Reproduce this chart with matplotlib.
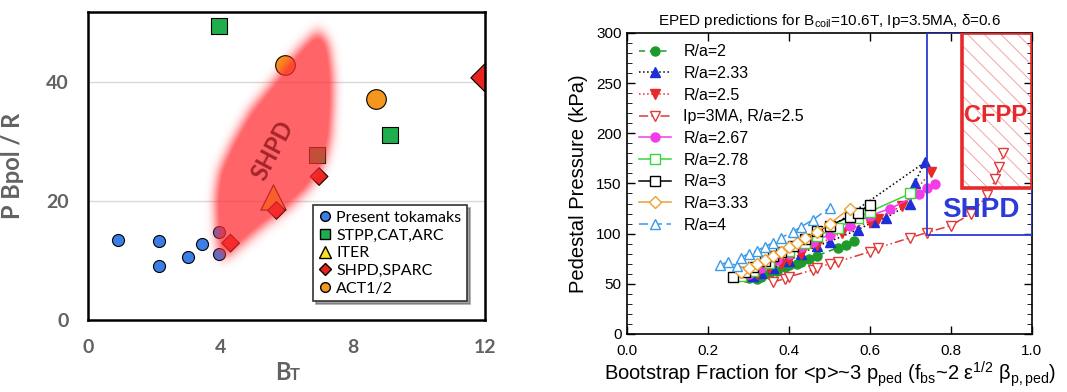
import numpy as np
import matplotlib
matplotlib.use('Agg')
import matplotlib.pyplot as plt
from matplotlib.lines import Line2D
from matplotlib.patches import Rectangle
from matplotlib.path import Path

plt.rcParams['mathtext.fontset'] = 'custom'
plt.rcParams['mathtext.rm'] = 'Liberation Sans'
plt.rcParams['mathtext.it'] = 'Liberation Sans:italic'
plt.rcParams['mathtext.bf'] = 'Liberation Sans:bold'
plt.rcParams['hatch.linewidth'] = 0.7

# ---------------- left panel data ----------------
tok_bt = [0.91, 2.14, 2.14, 3.02, 3.45, 3.95, 3.95]
tok_p = [13.5, 13.2, 9.1, 10.6, 12.7, 14.8, 11.1]
stpp_bt = [3.95, 9.14, 6.94]
stpp_p = [49.4, 31.1, 27.8]
iter_bt = [5.59]
iter_p = [20.7]
shpd_bt = [4.31, 5.70, 6.99, 12.0]
shpd_p = [12.9, 18.4, 24.1, 40.7]
shpd_ms = [9, 9, 9, 14]
act_bt = [5.95, 8.72]
act_p = [42.8, 37.2]

# outline of the SHPD region (BT, P Bpol/R)
region_bt = [3.98, 3.88, 3.84, 3.96, 4.37, 4.89, 5.62, 6.24, 6.76, 6.99,
             7.27, 7.38, 7.38, 7.32, 7.16, 6.70, 6.07, 5.24, 4.52, 4.12]
region_p = [10.6, 14.8, 20.4, 24.9, 29.9, 35.0, 40.0, 44.5, 47.6, 48.6,
            46.2, 41.1, 35.5, 30.5, 26.6, 22.4, 19.0, 15.6, 12.2, 10.4]

# ---------------- right panel data ----------------
series = [
    ('R/a=2', [0.30, 0.32, 0.33, 0.35, 0.37, 0.39, 0.40, 0.42, 0.43, 0.45, 0.47, 0.52, 0.54, 0.56],
     [56, 55, 57, 60, 63, 67, 69, 70, 72, 75, 78, 86, 89, 93]),
    ('R/a=2.33', [0.31, 0.33, 0.36, 0.40, 0.43, 0.47, 0.50, 0.57, 0.61, 0.64, 0.70, 0.71, 0.735],
     [58, 61, 66, 73, 80, 88, 92, 104, 112, 116, 130, 150, 171]),
    ('R/a=2.5', [0.29, 0.32, 0.35, 0.38, 0.40, 0.43, 0.47, 0.53, 0.60, 0.62, 0.68, 0.75],
     [57, 60, 66, 70, 74, 80, 89, 101, 112, 115, 128, 161]),
    ('Ip=3MA, R/a=2.5', [0.36, 0.39, 0.40, 0.46, 0.47, 0.50, 0.52, 0.60, 0.62, 0.70, 0.74, 0.80, 0.85, 0.89, 0.91, 0.92, 0.93],
     [52, 55, 57, 64, 66, 70, 72, 82, 86, 96, 101, 108, 120, 138, 154, 166, 180]),
    ('R/a=2.67', [0.30, 0.33, 0.37, 0.40, 0.43, 0.46, 0.50, 0.55, 0.60, 0.65, 0.72, 0.74, 0.76],
     [60, 66, 74, 80, 87, 92, 99, 108, 118, 125, 139, 145, 149]),
    ('R/a=2.78', [0.28, 0.31, 0.35, 0.40, 0.44, 0.47, 0.52, 0.57, 0.60, 0.70],
     [58, 63, 71, 83, 91, 98, 106, 116, 122, 140]),
    ('R/a=3', [0.26, 0.29, 0.31, 0.34, 0.36, 0.38, 0.41, 0.44, 0.47, 0.50, 0.55, 0.57, 0.60],
     [57, 62, 67, 73, 78, 82, 88, 95, 103, 108, 117, 121, 129]),
    ('R/a=3.33', [0.28, 0.30, 0.32, 0.34, 0.36, 0.38, 0.40, 0.42, 0.44, 0.47, 0.50, 0.55],
     [62, 66, 70, 74, 78, 82, 87, 91, 96, 102, 110, 125]),
    ('R/a=4', [0.23, 0.25, 0.27, 0.28, 0.30, 0.32, 0.34, 0.36, 0.38, 0.41, 0.43, 0.46, 0.50],
     [69, 72, 68, 76, 80, 83, 87, 91, 96, 102, 107, 114, 126]),
]
# second (upper) branch of the R/a=2.33 scan
ra233_up_x = [0.35, 0.60, 0.735]
ra233_up_y = [65, 133, 171]

styles = {
    'R/a=2': dict(color='#1e9a2a', ls=(0, (4, 3)), marker='o', mfc='#1e9a2a', mec='#1e9a2a'),
    'R/a=2.33': dict(color='black', ls=':', marker='^', mfc='#1c2fd8', mec='#1c2fd8'),
    'R/a=2.5': dict(color='#e8282a', ls=':', marker='v', mfc='#e8282a', mec='#e8282a'),
    'Ip=3MA, R/a=2.5': dict(color='#e03a3a', ls=(0, (6, 2, 1, 2, 1, 2)), marker='v', mfc='white', mec='#e03a3a'),
    'R/a=2.67': dict(color='#f23ce6', ls='-', marker='o', mfc='#f23ce6', mec='#f23ce6'),
    'R/a=2.78': dict(color='#3cd23c', ls='-', marker='s', mfc='white', mec='#3cd23c'),
    'R/a=3': dict(color='black', ls='-', marker='s', mfc='white', mec='black'),
    'R/a=3.33': dict(color='#f0a030', ls='-', marker='D', mfc='white', mec='#f0a030'),
    'R/a=4': dict(color='#3a9ae8', ls=(0, (6, 3)), marker='^', mfc='white', mec='#3a9ae8'),
}

fig = plt.figure(figsize=(10.67, 3.92), dpi=100)

# ================= left panel =================
ax1 = fig.add_axes([0.0826, 0.184, 0.3716, 0.786])
ax1.set_xlim(0, 12)
ax1.set_ylim(0, 51.8)
ax1.set_xticks([0, 4, 8, 12])
ax1.set_yticks([0, 20, 40])
for g in [20, 40]:
    ax1.axhline(g, color='#d9d9d9', lw=1, zorder=0)
for s in ax1.spines.values():
    s.set_linewidth(1.8)
ax1.tick_params(length=0, pad=14, labelsize=14, labelcolor='#626262')
for lab in ax1.get_xticklabels() + ax1.get_yticklabels():
    lab.set_fontfamily('Lato')
    lab.set_fontweight('bold')
ax1.set_ylabel('P Bpol / R', fontsize=17, fontweight='bold', color='#626262',
               family='Lato', labelpad=16)
fig.text(0.272, 0.03, 'B', fontsize=17, fontweight='bold', color='#626262',
         family='Lato', ha='right', va='baseline')
fig.text(0.272, 0.03, 'T', fontsize=12, fontweight='bold', color='#626262',
         family='Lato', ha='left', va='baseline')

ax1.scatter(tok_bt, tok_p, s=75, c='#3b7ee6', edgecolors='black', lw=0.8, zorder=2)
ax1.scatter(stpp_bt, stpp_p, s=120, marker='s', c='#1fae4c', edgecolors='black', lw=0.8, zorder=2)
ax1.scatter(iter_bt, iter_p, s=330, marker='^', c='#f7e31e', edgecolors='black', lw=0.8, zorder=2)
ax1.scatter(shpd_bt, shpd_p, s=np.array(shpd_ms) ** 2, marker='D', c='#e8231e',
            edgecolors='black', lw=0.8, zorder=2)
ax1.scatter(act_bt, act_p, s=200, c='#f5961e', edgecolors='black', lw=0.8, zorder=2)

# soft red SHPD region
gx = np.linspace(2.5, 9.0, 330)
gy = np.linspace(4.0, 54.0, 330)
GX, GY = np.meshgrid(gx, gy)
path = Path(np.column_stack([region_bt, region_p]))
mask = path.contains_points(np.column_stack([GX.ravel(), GY.ravel()])).reshape(GX.shape).astype(float)


def kern(sig):
    t = np.arange(-3 * sig, 3 * sig + 1)
    k = np.exp(-0.5 * (t / sig) ** 2)
    return k / k.sum()


kx = kern(8)
ky = kern(7)
mask = np.apply_along_axis(lambda r: np.convolve(r, kx, mode='same'), 1, mask)
mask = np.apply_along_axis(lambda c: np.convolve(c, ky, mode='same'), 0, mask)
img = np.zeros(mask.shape + (4,))
img[..., 0] = 1.0
img[..., 1] = 0.18
img[..., 2] = 0.2
img[..., 3] = np.clip(mask * 1.35, 0, 1) * 0.74
ax1.imshow(img, extent=[gx[0], gx[-1], gy[0], gy[-1]], origin='lower',
           aspect='auto', interpolation='bilinear', zorder=3)
ax1.text(5.6, 28.5, 'SHPD', rotation=62, fontsize=17, fontweight='bold',
         color='#a3262a', family='Lato', ha='center', va='center', zorder=4)

leg_handles = [
    Line2D([], [], ls='none', marker='o', ms=7, mfc='#3b7ee6', mec='black'),
    Line2D([], [], ls='none', marker='s', ms=7, mfc='#1fae4c', mec='black'),
    Line2D([], [], ls='none', marker='^', ms=8, mfc='#f7e31e', mec='black'),
    Line2D([], [], ls='none', marker='D', ms=6, mfc='#e8231e', mec='black'),
    Line2D([], [], ls='none', marker='o', ms=7, mfc='#f5961e', mec='black'),
]
leg_labels = ['Present tokamaks', 'STPP,CAT,ARC', 'ITER', 'SHPD,SPARC', 'ACT1/2']
leg = ax1.legend(leg_handles, leg_labels, loc='lower right', bbox_to_anchor=(0.975, 0.035),
                 fancybox=False, shadow=True, frameon=True, handlelength=0.8,
                 handletextpad=0.3, labelspacing=0.22, borderpad=0.35,
                 prop={'family': 'Lato', 'size': 11.5})
leg.get_frame().set_edgecolor('#333333')
leg.get_frame().set_linewidth(1.2)
leg.set_zorder(5)

# ================= right panel =================
ax2 = fig.add_axes([0.588, 0.148, 0.379, 0.768])
ax2.set_xlim(0, 1.0)
ax2.set_ylim(0, 300)
ax2.set_xticks(np.arange(0, 1.01, 0.2))
ax2.set_yticks(np.arange(0, 301, 50))
ax2.set_yticks(np.arange(0, 301, 10), minor=True)
ax2.tick_params(direction='in', top=True, right=True, length=6, width=1,
                labelsize=11, pad=4)
ax2.tick_params(axis='x', pad=7)
ax2.tick_params(which='minor', direction='in', right=True, length=3.5)
for lab in ax2.get_xticklabels() + ax2.get_yticklabels():
    lab.set_fontfamily('Liberation Sans')
for s in ax2.spines.values():
    s.set_linewidth(1.2)

handles = []
for name, xs, ys in series:
    st = styles[name]
    h, = ax2.plot(xs, ys, ls=st['ls'], color=st['color'], lw=1.1, marker=st['marker'],
                  ms=6.5 if st['marker'] != 'D' else 6, mfc=st['mfc'], mec=st['mec'],
                  mew=1.0, label=name, zorder=3)
    handles.append(h)
    if name == 'R/a=2.33':
        ax2.plot(ra233_up_x, ra233_up_y, ls=':', color='black', lw=1.1, zorder=2)

ax2.add_patch(Rectangle((0.741, 99), 1.0 - 0.741, 201, fill=False, ec='#2b3bd6', lw=1.3, zorder=4))
ax2.add_patch(Rectangle((0.828, 145), 1.0 - 0.828, 155, fill=False, hatch='\\\\',
                        ec='#f2a2a2', lw=0, zorder=1))
ax2.add_patch(Rectangle((0.828, 145), 1.0 - 0.828, 155, fill=False, ec='#e8282a', lw=2.6, zorder=4))
ax2.text(0.91, 218, 'CFPP', color='#e8282a', fontsize=17, fontweight='bold',
         family='Liberation Sans', ha='center', va='center', zorder=5)
ax2.text(0.873, 124, 'SHPD', color='#2b3bd6', fontsize=20, fontweight='bold',
         family='Liberation Sans', ha='center', va='center', zorder=5)

ax2.legend(handles=handles, loc='upper left', frameon=False, handlelength=2.0,
           handletextpad=0.8, labelspacing=0.42, borderaxespad=0.3,
           prop={'family': 'Liberation Sans', 'size': 11.5})

ax2.set_title('EPED predictions for B$_{\\rm coil}$=10.6T, Ip=3.5MA, δ=0.6',
              fontsize=11, family='Liberation Sans', pad=6)
ax2.set_ylabel('Pedestal Pressure (kPa)', fontsize=14.5, family='Liberation Sans', labelpad=6)
ax2.set_xlabel('Bootstrap Fraction for <p>~3 p$_{\\rm ped}$ (f$_{\\rm bs}$~2 ε$^{1/2}$ β$_{\\rm p,ped}$)',
               fontsize=14.5, family='Liberation Sans', labelpad=1)

fig.savefig('out.png', dpi=100)
